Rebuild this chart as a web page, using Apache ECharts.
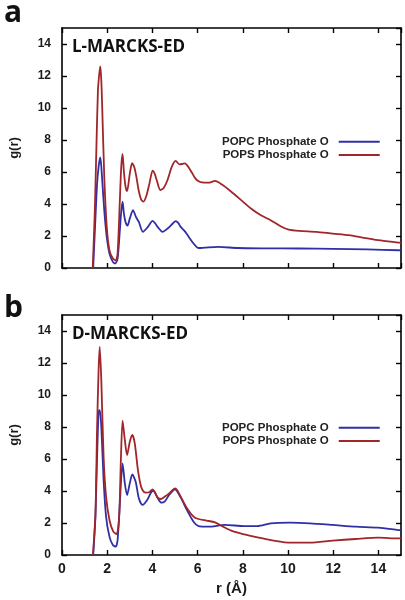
<!DOCTYPE html>
<html>
<head>
<meta charset="utf-8">
<script src="https://cdn.jsdelivr.net/npm/echarts@6/dist/echarts.min.js"></script>
<style>html,body{margin:0;padding:0;background:#fff;}#c{width:405px;height:600px;}</style>
</head>
<body>
<div id="c"></div>
<script>
// ---- data ----
const xTicks = [0, 2, 4, 6, 8, 10, 12, 14];
const yTicks = [0, 2, 4, 6, 8, 10, 12, 14];
const seriesNames = ['POPC Phosphate O', 'POPS Phosphate O'];
const panelTitles = ['L-MARCKS-ED', 'D-MARCKS-ED'];
const panelLetters = ['a', 'b'];

// Panel a: L-MARCKS-ED
const aPopsR = [1.36,1.45,1.52,1.59,1.64,1.69,1.73,1.77,1.87,1.98,2.1,2.25,2.38,2.46,2.56,2.62,2.68,2.74,2.81,2.88,3.0,3.1,3.2,3.29,3.4,3.5,3.6,3.73,3.87,4.01,4.1,4.19,4.35,4.5,4.67,4.86,5.03,5.2,5.32,5.44,5.6,5.75,5.9,6.05,6.19,6.48,6.77,7.06,7.49,7.93,8.36,8.8,9.23,9.67,10.03,10.5,11.26,11.98,12.7,13.29,14.0,14.88,15];
const aPopsG = [0,3.5,7.4,11.1,12.0,12.6,12.0,10.5,5.7,2.57,1.1,0.59,0.48,0.9,4.24,6.3,7.13,6.0,5.1,4.8,5.9,6.55,6.3,5.71,4.8,4.29,4.15,4.5,5.29,6.08,5.9,5.5,4.87,5.0,5.5,6.33,6.69,6.48,6.5,6.54,6.3,5.95,5.6,5.42,5.35,5.33,5.44,5.23,4.77,4.24,3.72,3.3,2.99,2.61,2.4,2.32,2.26,2.15,2.05,1.9,1.74,1.59,1.57];
const aPopcR = [1.38,1.47,1.55,1.62,1.69,1.73,1.77,1.87,1.98,2.1,2.25,2.35,2.46,2.56,2.62,2.68,2.74,2.81,2.9,3.0,3.14,3.27,3.4,3.58,3.8,4.01,4.12,4.23,4.45,4.7,4.9,5.03,5.15,5.25,5.4,5.53,5.68,5.82,5.95,6.04,6.3,6.9,7.77,9.0,10.5,12.0,13.5,14.88,15];
const aPopcG = [0,2.8,5.2,6.33,6.92,6.5,5.7,3.6,1.94,0.9,0.38,0.28,0.59,2.36,3.5,4.14,3.4,2.88,2.65,3.1,3.62,3.2,2.88,2.26,2.57,2.95,2.8,2.57,2.26,2.5,2.78,2.93,2.8,2.57,2.35,2.11,1.8,1.53,1.32,1.25,1.27,1.32,1.25,1.23,1.22,1.2,1.16,1.11,1.1];

// Panel b: D-MARCKS-ED
const bPopsR = [1.37,1.48,1.55,1.62,1.67,1.74,1.84,1.95,2.1,2.27,2.42,2.53,2.6,2.68,2.78,2.88,3.0,3.11,3.22,3.36,3.5,3.62,3.72,3.87,4.01,4.1,4.23,4.37,4.55,4.74,5.0,5.1,5.25,5.53,5.82,6.04,6.4,6.77,7.13,7.49,8.07,8.65,9.37,10.1,10.97,11.98,13.0,14.0,14.88,15];
const bPopsG = [0,2.6,7.8,11.6,13.0,10.9,6.15,3.65,2.19,1.46,1.31,2.4,5.7,8.4,7.19,6.25,7.08,7.5,6.98,5.31,4.27,3.95,3.9,3.94,4.1,3.95,3.6,3.5,3.65,3.85,4.17,4.05,3.65,2.92,2.4,2.25,2.15,2.04,1.77,1.52,1.29,1.1,0.9,0.77,0.77,0.9,1.0,1.08,1.04,1.04];
const bPopcR = [1.38,1.48,1.55,1.62,1.67,1.74,1.84,1.95,2.1,2.25,2.38,2.46,2.56,2.62,2.68,2.78,2.88,3.0,3.11,3.26,3.4,3.56,3.77,3.96,4.05,4.24,4.4,4.55,4.74,5.0,5.25,5.53,5.82,6.04,6.48,7.2,8.07,8.65,9.23,10.1,10.97,11.98,13.0,14.0,14.88,15];
const bPopcG = [0,2.4,6.0,8.96,9.06,8.0,4.7,2.4,1.15,0.62,0.52,0.94,3.23,4.8,5.73,4.48,3.75,4.48,5.04,4.58,3.54,3.13,3.44,3.96,4.0,3.54,3.27,3.35,3.75,4.1,3.6,2.8,2.08,1.81,1.77,1.88,1.81,1.81,1.98,2.02,1.98,1.88,1.77,1.71,1.56,1.55];

// ---- chart ----
const BLUE = '#2f2fa6';
const RED = '#a0262a';
const zip = (xs, ys) => xs.map((x, i) => [x, ys[i]]);
const FONT = '"Liberation Sans", Arial, sans-serif';

const grids = [
  { left: 58, right: 4, top: 28, bottom: 332 },
  { left: 58, right: 4, top: 315, bottom: 45 }
];

function axisBase(gi) {
  return {
    type: 'value', gridIndex: gi, min: 0, max: 15, interval: 2,
    axisLine: { show: true, onZero: false, lineStyle: { color: '#000', width: 1.6 } },
    axisTick: { show: true, inside: true, length: 5, lineStyle: { color: '#000', width: 1.4 } },
    splitLine: { show: false }
  };
}

function xAxes(gi, showLabels) {
  return [
    Object.assign(axisBase(gi), {
      position: 'bottom',
      axisLabel: { show: showLabels, showMaxLabel: false, margin: 7, fontFamily: FONT, fontWeight: 'bold', fontSize: 14, color: '#1a1a1a' },
      name: showLabels ? 'r (Å)' : '', nameLocation: 'middle', nameGap: 26,
      nameTextStyle: { fontFamily: FONT, fontWeight: 'bold', fontSize: 15, color: '#1a1a1a' }
    }),
    Object.assign(axisBase(gi), { position: 'top', axisLabel: { show: false } })
  ];
}
function yAxes(gi) {
  return [
    Object.assign(axisBase(gi), {
      position: 'left',
      axisLabel: { showMaxLabel: false, margin: 11, fontFamily: FONT, fontWeight: 'bold', fontSize: 12, color: '#1a1a1a' },
      name: 'g(r)', nameLocation: 'middle', nameGap: 41,
      nameTextStyle: { fontFamily: FONT, fontWeight: 'bold', fontSize: 13, color: '#1a1a1a' }
    }),
    Object.assign(axisBase(gi), { position: 'right', axisLabel: { show: false } })
  ];
}

function lineSeries(name, color, data, xi, yi) {
  return {
    type: 'line', name: name, data: data, xAxisIndex: xi, yAxisIndex: yi,
    showSymbol: false, smooth: 0.25, clip: true,
    lineStyle: { color: color, width: 1.8 }, itemStyle: { color: color },
    animation: false
  };
}

function legend(top) {
  return {
    orient: 'vertical', left: 222, top: top, padding: 0, itemGap: 0,
    itemWidth: 41, itemHeight: 2, icon: 'rect', align: 'right',
    textStyle: { fontFamily: FONT, fontWeight: 'bold', fontSize: 11.5, color: '#222', lineHeight: 13.4, padding: [0, 5, 0, 0] },
    data: seriesNames
  };
}

const chart = echarts.init(document.getElementById('c'), null, { renderer: 'canvas' });
chart.setOption({
  backgroundColor: '#fff',
  animation: false,
  grid: grids,
  xAxis: [].concat(xAxes(0, false), xAxes(1, true)),
  yAxis: [].concat(yAxes(0), yAxes(1)),
  legend: [legend(135), legend(421)],
  series: [
    lineSeries(seriesNames[0], BLUE, zip(aPopcR, aPopcG), 0, 0),
    lineSeries(seriesNames[1], RED, zip(aPopsR, aPopsG), 0, 0),
    lineSeries(seriesNames[0], BLUE, zip(bPopcR, bPopcG), 2, 2),
    lineSeries(seriesNames[1], RED, zip(bPopsR, bPopsG), 2, 2)
  ],
  graphic: [
    { type: 'text', left: 4, top: -2, style: { text: panelLetters[0], font: 'bold 30px "Open Sans", sans-serif', fill: '#111' } },
    { type: 'text', left: 4, top: 293, style: { text: panelLetters[1], font: 'bold 30px "Open Sans", sans-serif', fill: '#111' } },
    { type: 'text', left: 72, top: 39, style: { text: panelTitles[0], font: 'bold 17px "Open Sans", sans-serif', fill: '#111' } },
    { type: 'text', left: 72, top: 326, style: { text: panelTitles[1], font: 'bold 17px "Open Sans", sans-serif', fill: '#111' } }
  ]
});
</script>
</body>
</html>
